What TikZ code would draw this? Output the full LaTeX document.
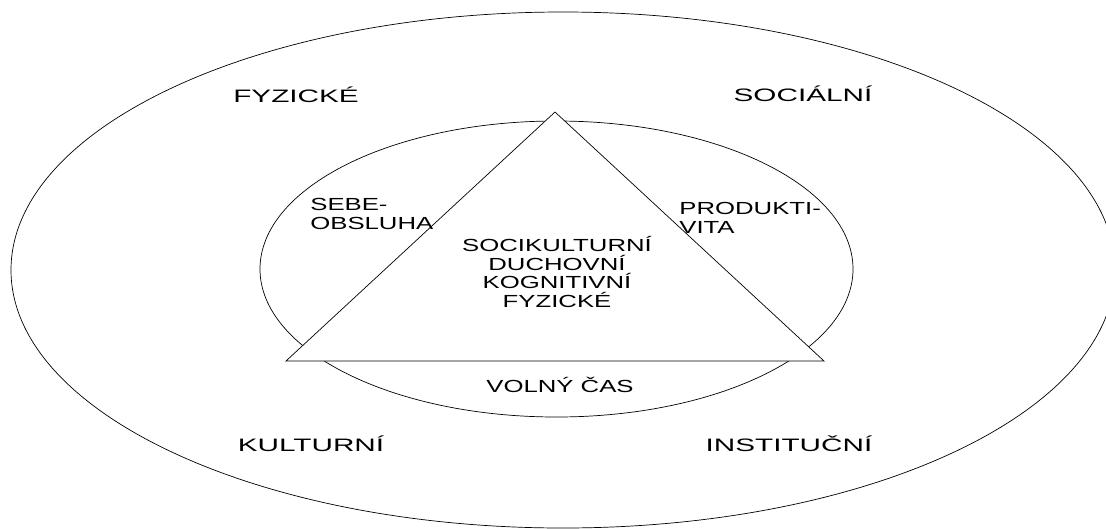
\documentclass[tikz,border=0pt]{standalone}
\usepackage{fontspec}
\usepackage{tikz}
\newfontfamily\outerfont{Liberation Sans}[FakeStretch=1.65]
\newfontfamily\innerfont{Liberation Sans}[FakeStretch=1.47]

\begin{document}
\begin{tikzpicture}[x=1pt,y=-1pt,line width=0.7pt,
        outerlbl/.style={font=\outerfont\fontsize{18}{19}\selectfont,inner sep=0pt,anchor=base},
        innerlbl/.style={font=\innerfont\fontsize{17.5}{18.7}\selectfont,inner sep=0pt,align=left}]
        \path[use as bounding box,clip] (0,0) rectangle (1106,528);
        % ellipses
        \draw (563,270) ellipse [x radius=552pt,y radius=258pt];
        \draw (556.5,269) ellipse [x radius=296.5pt,y radius=148pt];
        % triangle, white inside
        \coordinate (apex) at (555,112);
        \coordinate (left) at (286,361);
        \coordinate (right) at (824,361);
        \draw[fill=white] (left) -- (right) -- (apex) -- cycle;
        % labels
        \node[outerlbl] (fyz) at (296,102) {FYZICKÉ};
        \node[outerlbl] (soc) at (803,101) {SOCIÁLNÍ};
        \node[outerlbl] (kul) at (311,451) {KULTURNÍ};
        \node[outerlbl] (ins) at (789,451) {INSTITUČNÍ};
        \node[innerlbl,anchor=west] (sebe) at (310,214) {SEBE-\\OBSLUHA};
        \node[innerlbl,anchor=west] (prod) at (679,218) {PRODUKTI-\\VITA};
        \node[innerlbl,align=center] (mid) at (557,272) {SOCIKULTURNÍ\\DUCHOVNÍ\\KOGNITIVNÍ\\FYZICKÉ};
        \node[innerlbl,anchor=base] (volny) at (560,392) {VOLNÝ ČAS};
    \end{tikzpicture}
\end{document}
